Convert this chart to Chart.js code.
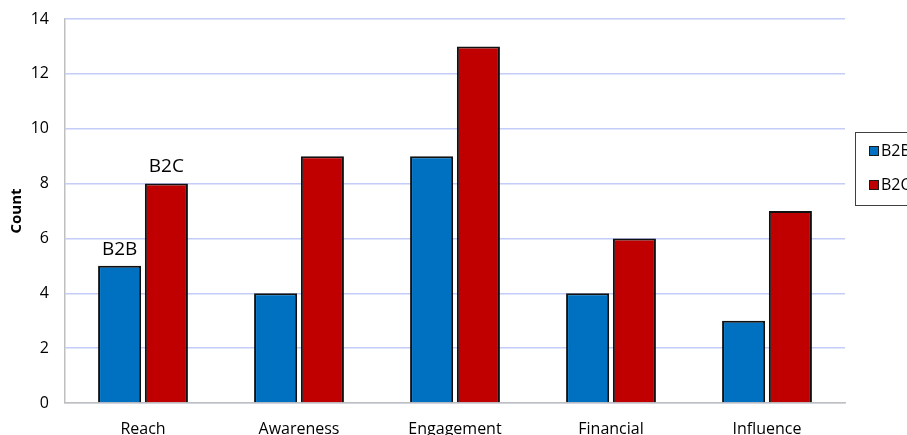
<!DOCTYPE html>
<html><head><meta charset="utf-8">
<script src="https://cdn.jsdelivr.net/npm/chart.js@4/dist/chart.umd.min.js"></script>
<style>html,body{margin:0;padding:0;overflow:hidden;background:#fff;width:907px;height:435px}#wrap{width:950px;height:450px;position:relative}</style>
</head><body><div id="wrap"><canvas id="c" width="950" height="450"></canvas></div>
<script>
const categories = ["Reach", "Awareness", "Engagement", "Financial", "Influence"];
const b2b = [5, 4, 9, 4, 3];
const b2c = [8, 9, 13, 6, 7];
const seriesNames = ["B2B", "B2C"];
const yTicks = [0, 2, 4, 6, 8, 10, 12, 14];
const FONT = "'Open Sans', 'Liberation Sans', sans-serif";

const annot = {
  id: 'annot',
  afterDatasetsDraw(chart) {
    const ctx = chart.ctx;
    ctx.save();
    ctx.font = "19px " + FONT;
    ctx.fillStyle = "#000";
    ctx.textAlign = "center";
    ctx.textBaseline = "bottom";
    [0, 1].forEach(di => {
      const bar = chart.getDatasetMeta(di).data[0];
      ctx.fillText(seriesNames[di], bar.x, bar.y - 7);
    });
    // legend box
    const a = chart.chartArea;
    const lx = a.right + 10, ly = a.top + 113, lw = 80, lh = 73;
    ctx.strokeStyle = "#404040"; ctx.lineWidth = 1;
    ctx.strokeRect(lx + 0.5, ly + 0.5, lw, lh);
    ctx.font = "16px " + FONT;
    ctx.textAlign = "left"; ctx.textBaseline = "middle";
    chart.data.datasets.forEach((ds, i) => {
      const y = ly + 19 + i * 34;
      ctx.fillStyle = ds.backgroundColor;
      ctx.fillRect(lx + 14, y - 5, 10, 10);
      ctx.strokeStyle = "#1a1a1a";
      ctx.strokeRect(lx + 14.5, y - 4.5, 9, 9);
      ctx.fillStyle = "#000";
      ctx.fillText(ds.label, lx + 26, y);
    });
    ctx.restore();
  }
};

new Chart(document.getElementById('c'), {
  type: 'bar',
  data: {
    labels: categories,
    datasets: [
      { label: seriesNames[0], data: b2b, backgroundColor: "#0070C0", borderColor: "#111", borderWidth: 2, categoryPercentage: 0.6, barPercentage: 0.92 },
      { label: seriesNames[1], data: b2c, backgroundColor: "#C00000", borderColor: "#111", borderWidth: 2, categoryPercentage: 0.6, barPercentage: 0.92 }
    ]
  },
  options: {
    responsive: false,
    animation: false,
    layout: { padding: { left: 0, right: 105, top: 19, bottom: 0 } },
    plugins: { legend: { display: false }, tooltip: { enabled: false } },
    scales: {
      x: {
        grid: { display: false, drawTicks: false },
        border: { display: true, color: "#bfbfbf", width: 1.5 },
        ticks: { color: "#000", font: { family: FONT, size: 16 }, padding: 17 },
        afterFit(s) { s.height = 47; }
      },
      y: {
        min: 0, max: 14,
        afterBuildTicks(s) { s.ticks = yTicks.map(v => ({ value: v })); },
        grid: { color: "#c4ccf8", lineWidth: 1.5, drawTicks: false },
        border: { display: true, color: "#bfbfbf", width: 1.5 },
        ticks: { color: "#000", font: { family: FONT, size: 16 }, padding: 16 },
        title: { display: true, text: "Count", color: "#000", font: { family: FONT, size: 15, weight: 'bold' }, padding: { top: 8, bottom: 0 } },
        afterFit(s) { s.width = 65; s.paddingTop = 0; s.paddingBottom = 0; }
      }
    }
  },
  plugins: [annot]
});
</script></body></html>
